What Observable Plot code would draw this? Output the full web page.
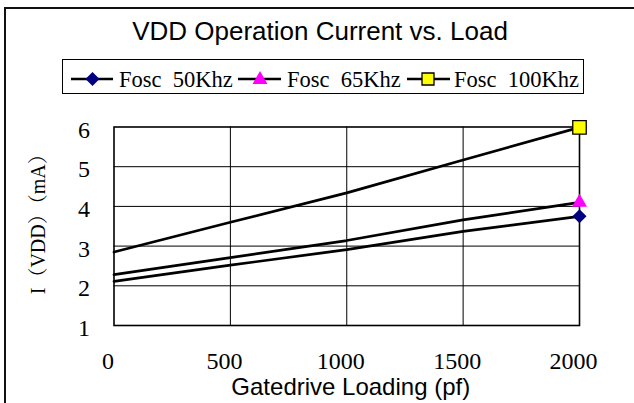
<!DOCTYPE html>
<html>
<head>
<meta charset="utf-8">
<script src="https://cdn.jsdelivr.net/npm/d3@7"></script>
<script src="https://cdn.jsdelivr.net/npm/@observablehq/plot@0.6"></script>
<style>
  html, body { margin: 0; padding: 0; background: #fff; }
  #wrap { position: relative; width: 634px; height: 403px; overflow: hidden; background: #fff; }
  #border { position: absolute; left: 4px; top: 7px; width: 700px; height: 500px; border: 2px solid #111; box-sizing: border-box; }
  #title { position: absolute; left: 0; width: 640px; top: 16px; text-align: center; font-family: "Liberation Sans", Arial, sans-serif; font-size: 26px; color: #000; white-space: nowrap; }
  #legend { position: absolute; left: 62px; top: 59px; width: 522px; height: 35px; border: 1px solid #000; box-sizing: border-box; background: #fff; }
  #legend svg { position: absolute; left: 0; top: 0; }
  #chart { position: absolute; left: 0; top: 100px; }
</style>
</head>
<body>
<div id="wrap">
  <div id="border"></div>
  <div id="title">VDD Operation Current vs. Load</div>
  <div id="legend"></div>
  <div id="chart"></div>
</div>
<script>
// Data
const loads = [0, 500, 1000, 1500, 2000];
const f50 = [2.11, 2.52, 2.91, 3.37, 3.75];
const f65 = [2.28, 2.71, 3.14, 3.66, 4.10];
const f100 = [2.85, 3.60, 4.34, 5.17, 5.99];
const seriesNames = ["Fosc  50Khz", "Fosc  65Khz", "Fosc  100Khz"];
const seriesColors = ["#000080", "#FF00FF", "#FFFF00"];
const xTicks = [0, 500, 1000, 1500, 2000];
const yTicks = [1, 2, 3, 4, 5, 6];
const xTitle = "Gatedrive Loading (pf)";
const yTitle = "I（VDD）（mA）";

const seriesValues = [f50, f65, f100];
const data = [];
seriesValues.forEach((vals, si) => {
  vals.forEach((v, i) => data.push({series: seriesNames[si], load: loads[i], current: v}));
});
const lastLoad = loads[loads.length - 1];
const ends = data.filter(d => d.load === lastLoad);

const serif = "'Liberation Serif', 'Noto Serif CJK SC', 'Noto Sans CJK SC', serif";
const sans = "'Liberation Sans', Arial, sans-serif";

const chart = Plot.plot({
  width: 634,
  height: 303,
  marginTop: 26.5,
  marginBottom: 78,
  marginLeft: 113.5,
  marginRight: 55,
  style: {background: "transparent", color: "#000", overflow: "visible", fontFamily: serif, fontSize: "24px"},
  x: {domain: [0, 2000]},
  y: {domain: [1, 6]},
  marks: [
    Plot.gridX(xTicks.filter(t => t > 0 && t < 2000), {stroke: "#000", strokeOpacity: 1, strokeWidth: 1}),
    Plot.gridY(yTicks.filter(t => t > 1 && t < 6), {stroke: "#000", strokeOpacity: 1, strokeWidth: 1}),
    Plot.frame({stroke: "#000", strokeWidth: 1.6}),
    Plot.line(data, {x: "load", y: "current", z: "series", stroke: "#000", strokeWidth: 2.7}),
    Plot.dot(ends.filter(d => d.series === seriesNames[0]), {x: "load", y: "current", symbol: "square", rotate: 45, r: 5.6, fill: seriesColors[0], stroke: "none"}),
    Plot.dot(ends.filter(d => d.series === seriesNames[1]), {x: "load", y: "current", symbol: "triangle", r: 5.6, fill: seriesColors[1], stroke: "none"}),
    Plot.dot(ends.filter(d => d.series === seriesNames[2]), {x: "load", y: "current", symbol: "square", r: 7.6, fill: seriesColors[2], stroke: "#000", strokeWidth: 1.3}),
    Plot.axisX(xTicks, {tickSize: 0, tickPadding: 26, fontSize: 24, fontFamily: serif, dx: -6, tickFormat: d => String(d), label: null}),
    Plot.axisY(yTicks, {tickSize: 0, tickPadding: 24, fontSize: 24, fontFamily: serif, dy: 3, tickFormat: d => String(d), label: null}),
    Plot.text([xTitle], {frameAnchor: "bottom", lineAnchor: "bottom", textAnchor: "middle", text: d => d, dy: 69, dx: 4, fontSize: 24, fontFamily: sans, fill: "#000"}),
    Plot.text([yTitle], {frameAnchor: "left", textAnchor: "middle", lineAnchor: "middle", text: d => d, rotate: -90, dx: -75.5, dy: -7, fontSize: 20, fontFamily: serif, fill: "#000"})
  ]
});
document.getElementById("chart").appendChild(chart);

// Legend (HTML/SVG, outside the plot SVG)
const legendItems = [
  {name: seriesNames[0], color: seriesColors[0], sym: "diamond", x0: 8, x1: 50, cx: 29.5, tx: 56},
  {name: seriesNames[1], color: seriesColors[1], sym: "triangle", x0: 175, x1: 218, cx: 197, tx: 224},
  {name: seriesNames[2], color: seriesColors[2], sym: "square", x0: 344, x1: 387, cx: 365, tx: 391}
];
const ns = "http://www.w3.org/2000/svg";
const lsvg = document.createElementNS(ns, "svg");
lsvg.setAttribute("width", 522);
lsvg.setAttribute("height", 35);
const cy = 19;
for (const it of legendItems) {
  const ln = document.createElementNS(ns, "line");
  ln.setAttribute("x1", it.x0); ln.setAttribute("x2", it.x1);
  ln.setAttribute("y1", cy); ln.setAttribute("y2", cy);
  ln.setAttribute("stroke", "#000"); ln.setAttribute("stroke-width", 2.7);
  lsvg.appendChild(ln);
  const p = document.createElementNS(ns, "path");
  let d;
  if (it.sym === "diamond") d = `M${it.cx},${cy-7}L${it.cx+7},${cy}L${it.cx},${cy+7}L${it.cx-7},${cy}Z`;
  else if (it.sym === "triangle") d = `M${it.cx},${cy-8}L${it.cx+7.5},${cy+5}L${it.cx-7.5},${cy+5}Z`;
  else d = `M${it.cx-6},${cy-6}h12v12h-12Z`;
  p.setAttribute("d", d);
  p.setAttribute("fill", it.color);
  if (it.sym === "square") { p.setAttribute("stroke", "#000"); p.setAttribute("stroke-width", 1.3); }
  lsvg.appendChild(p);
  const t = document.createElementNS(ns, "text");
  t.setAttribute("x", it.tx); t.setAttribute("y", 27);
  t.setAttribute("font-family", "Liberation Serif, serif");
  t.setAttribute("font-size", 22.5);
  t.setAttribute("xml:space", "preserve");
  t.style.whiteSpace = "pre";
  t.textContent = it.name;
  lsvg.appendChild(t);
}
document.getElementById("legend").appendChild(lsvg);
</script>
</body>
</html>
